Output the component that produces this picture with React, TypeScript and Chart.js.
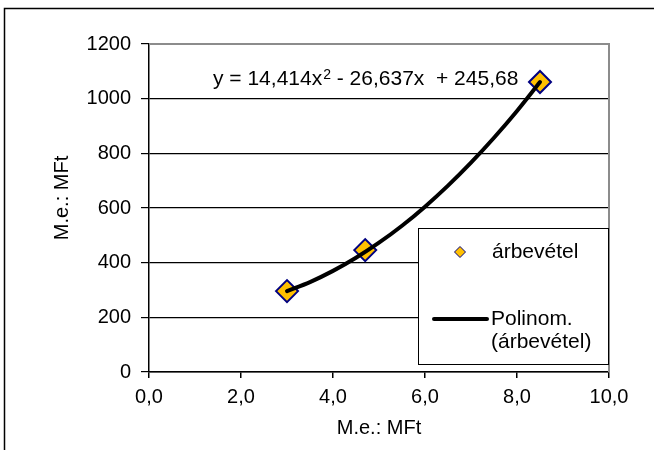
import React, { useEffect, useRef } from "react";
import { Chart, registerables } from "chart.js";

Chart.register(...registerables);

// Data
const salesX = [3.0, 4.7, 8.5];
const salesY = [296, 446, 1061];
const trendX = [3.0, 3.5, 4.0, 4.5, 5.0, 5.5, 6.0, 6.5, 7.0, 7.5, 8.0, 8.5];
const trendY = [296, 329, 370, 418, 473, 535, 605, 682, 766, 857, 955, 1061];
const seriesLabel = "árbevétel";
const trendLabelLines = ["Polinom.", "(árbevétel)"];
const equationMain = "y = 14,414x";
const equationSup = "2";
const equationRest = " - 26,637x  + 245,68";
const xTitle = "M.e.: MFt";
const yTitle = "M.e.: MFt";
const xMin = 0, xMax = 10, xStep = 2;
const yMin = 0, yMax = 1200, yStep = 200;

const FONT = "'Liberation Sans', Arial, sans-serif";
const MARKER_FILL = "#FFC000";
const MARKER_BORDER = "#000080";

export default function App() {
  const ref = useRef<HTMLCanvasElement | null>(null);

  useEffect(() => {
    const canvas = ref.current;
    if (!canvas) return;

    const decor = {
      id: "decor",
      afterDraw(chart: any) {
        const ctx = chart.ctx as CanvasRenderingContext2D;
        const ca = chart.chartArea;
        ctx.save();
        // outer frame (top + left)
        ctx.strokeStyle = "#000";
        ctx.lineWidth = 1.5;
        ctx.beginPath();
        ctx.moveTo(4.5, 450);
        ctx.lineTo(4.5, 8.5);
        ctx.lineTo(654, 8.5);
        ctx.stroke();

        // plot area top/right border (gray)
        ctx.strokeStyle = "#8c8c8c";
        ctx.lineWidth = 2;
        ctx.beginPath();
        ctx.moveTo(ca.left, ca.top);
        ctx.lineTo(ca.right, ca.top);
        ctx.lineTo(ca.right, ca.bottom);
        ctx.stroke();

        // equation
        ctx.fillStyle = "#000";
        ctx.textBaseline = "alphabetic";
        ctx.textAlign = "left";
        ctx.font = `21px ${FONT}`;
        let ex = 213;
        const ey = 85;
        ctx.fillText(equationMain, ex, ey);
        ex += ctx.measureText(equationMain).width + 1;
        ctx.font = `14px ${FONT}`;
        ctx.fillText(equationSup, ex, ey - 6);
        ex += ctx.measureText(equationSup).width;
        ctx.font = `21px ${FONT}`;
        ctx.fillText(equationRest, ex, ey);

        // legend box
        const lx = 418.5, ly = 228.5, lw = 190, lh = 136;
        ctx.fillStyle = "#fff";
        ctx.fillRect(lx, ly, lw, lh);
        ctx.strokeStyle = "#000";
        ctx.lineWidth = 1;
        ctx.strokeRect(lx, ly, lw, lh);

        // legend marker
        const mx = 460, my = 252, mr = 5.5;
        ctx.beginPath();
        ctx.moveTo(mx, my - mr);
        ctx.lineTo(mx + mr, my);
        ctx.lineTo(mx, my + mr);
        ctx.lineTo(mx - mr, my);
        ctx.closePath();
        ctx.fillStyle = MARKER_FILL;
        ctx.fill();
        ctx.strokeStyle = MARKER_BORDER;
        ctx.lineWidth = 1;
        ctx.stroke();

        ctx.fillStyle = "#000";
        ctx.font = `21px ${FONT}`;
        ctx.textBaseline = "middle";
        ctx.fillText(seriesLabel, 492, my);

        // legend line
        ctx.strokeStyle = "#000";
        ctx.lineWidth = 4;
        ctx.lineCap = "round";
        ctx.beginPath();
        ctx.moveTo(434, 319);
        ctx.lineTo(487, 319);
        ctx.stroke();
        ctx.fillText(trendLabelLines[0], 491, 319);
        ctx.fillText(trendLabelLines[1], 491, 342);

        // axis titles
        ctx.font = `20px ${FONT}`;
        ctx.textAlign = "center";
        ctx.textBaseline = "middle";
        ctx.fillText(xTitle, (ca.left + ca.right) / 2, 428);
        ctx.translate(62, 198);
        ctx.rotate(-Math.PI / 2);
        ctx.fillText(yTitle, 0, 0);
        ctx.restore();
      },
    };

    const chart = new Chart(canvas, {
      type: "scatter",
      data: {
        datasets: [
          {
            label: trendLabelLines.join(" "),
            data: trendX.map((x, i) => ({ x, y: trendY[i] })),
            showLine: true,
            borderColor: "#000",
            borderWidth: 4,
            borderCapStyle: "round",
            pointRadius: 0,
            cubicInterpolationMode: "monotone",
          } as any,
          {
            label: seriesLabel,
            data: salesX.map((x, i) => ({ x, y: salesY[i] })),
            showLine: false,
            pointStyle: "rectRot",
            pointRadius: 11,
            backgroundColor: MARKER_FILL,
            borderColor: MARKER_BORDER,
            borderWidth: 2,
          } as any,
        ],
      },
      options: {
        responsive: false,
        animation: false,
        devicePixelRatio: 1,
        layout: { padding: { top: 44, right: 45, left: 0, bottom: 0 } },
        plugins: { legend: { display: false }, tooltip: { enabled: false } },
        scales: {
          x: {
            type: "linear",
            min: xMin,
            max: xMax,
            afterFit: (s: any) => { s.height = 78; },
            ticks: {
              stepSize: xStep,
              color: "#000",
              padding: 7,
              font: { family: FONT, size: 20 },
              callback: (v: any) => Number(v).toFixed(1).replace(".", ","),
            },
            grid: { drawOnChartArea: false, drawTicks: true, tickLength: 6, color: "#000", lineWidth: 1.5 },
            border: { color: "#000", width: 1.5 },
          },
          y: {
            min: yMin,
            max: yMax,
            afterFit: (s: any) => { s.width = 149; },
            ticks: {
              stepSize: yStep,
              color: "#000",
              padding: 10,
              font: { family: FONT, size: 20 },
              callback: (v: any) => String(v),
            },
            grid: { color: "#000", lineWidth: 1.2, tickLength: 8 },
            border: { color: "#000", width: 1.5 },
          },
        },
      } as any,
      plugins: [decor],
    });
    return () => chart.destroy();
  }, []);

  return (
    <div style={{ position: "fixed", left: 0, top: 0, width: 654, height: 450, background: "#fff" }}>
      <canvas ref={ref} width={654} height={450} style={{ display: "block" }} />
    </div>
  );
}
